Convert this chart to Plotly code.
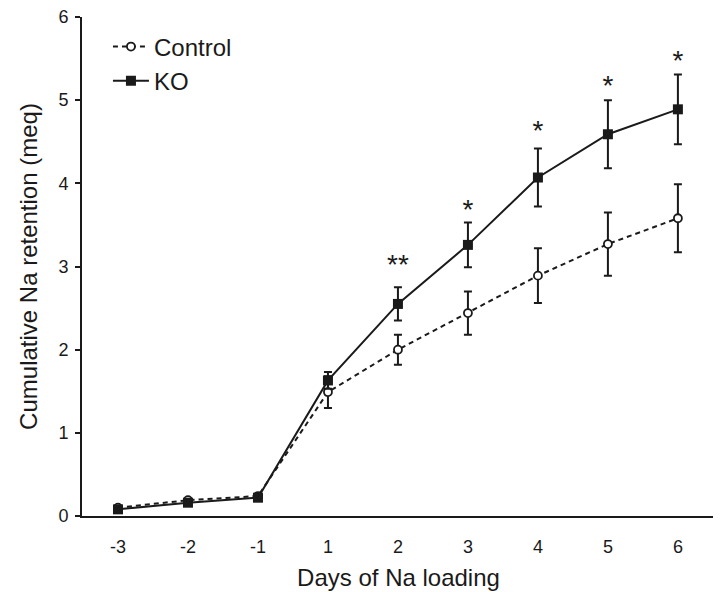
import plotly.graph_objects as go

days = ["-3", "-2", "-1", "1", "2", "3", "4", "5", "6"]
control = [0.10, 0.19, 0.24, 1.49, 2.00, 2.44, 2.89, 3.27, 3.58]
control_err = [0.02, 0.02, 0.02, 0.19, 0.18, 0.26, 0.33, 0.38, 0.41]
ko = [0.08, 0.16, 0.22, 1.63, 2.55, 3.26, 4.07, 4.59, 4.89]
ko_err = [0.02, 0.02, 0.02, 0.10, 0.20, 0.27, 0.35, 0.41, 0.42]
stars = ["", "", "", "", "**", "*", "*", "*", "*"]
star_y = [None, None, None, None, 2.99, 3.66, 4.61, 5.15, 5.45]

idx = list(range(len(days)))
FONT = "Liberation Sans, Arial, sans-serif"
INK = "#1a1a1a"

fig = go.Figure()
fig.add_trace(go.Scatter(
    x=idx, y=control, name="Control", mode="lines+markers",
    line=dict(color=INK, width=2, dash="5px,4px"),
    marker=dict(symbol="circle", size=8, color="white", line=dict(color=INK, width=1.8)),
    error_y=dict(type="data", array=control_err, color=INK, thickness=2, width=4),
))
fig.add_trace(go.Scatter(
    x=idx, y=ko, name="KO", mode="lines+markers",
    line=dict(color=INK, width=2),
    marker=dict(symbol="square", size=10, color=INK),
    error_y=dict(type="data", array=ko_err, color=INK, thickness=2, width=4),
))
fig.add_trace(go.Scatter(
    x=idx, y=star_y, text=stars, mode="text", showlegend=False,
    textfont=dict(family=FONT, size=28, color=INK),
    textposition="middle center", hoverinfo="skip",
))

fig.update_layout(
    width=713, height=584,
    margin=dict(l=74, r=6, t=9, b=76, autoexpand=False),
    paper_bgcolor="white", plot_bgcolor="white",
    font=dict(family=FONT, color=INK),
    showlegend=True,
    legend=dict(x=0.041, y=0.985, xanchor="left", yanchor="top",
                bgcolor="rgba(0,0,0,0)", font=dict(size=24), tracegroupgap=0,
                itemwidth=36),
    xaxis=dict(
        range=[-0.514, 8.53], tickmode="array", tickvals=idx, ticktext=days,
        showline=True, linecolor=INK, linewidth=2,
        ticks="outside", ticklen=13, tickcolor="rgba(0,0,0,0)",
        showgrid=False, zeroline=False, tickfont=dict(size=18), automargin=False,
        ticklabeloverflow="allow",
        title=dict(text="Days of Na loading", font=dict(size=24), standoff=14),
    ),
    yaxis=dict(
        range=[0, 6], tickmode="array", tickvals=[0, 1, 2, 3, 4, 5, 6],
        showline=True, linecolor=INK, linewidth=2, ticks="outside",
        ticklen=5, tickwidth=2, tickcolor=INK, ticklabelstandoff=3,
        showgrid=False, zeroline=False, tickfont=dict(size=18), automargin=False,
        ticklabeloverflow="allow",
        title=dict(text="Cumulative Na retention (meq)", font=dict(size=24), standoff=14),
    ),
)

fig.write_html("out.html")
